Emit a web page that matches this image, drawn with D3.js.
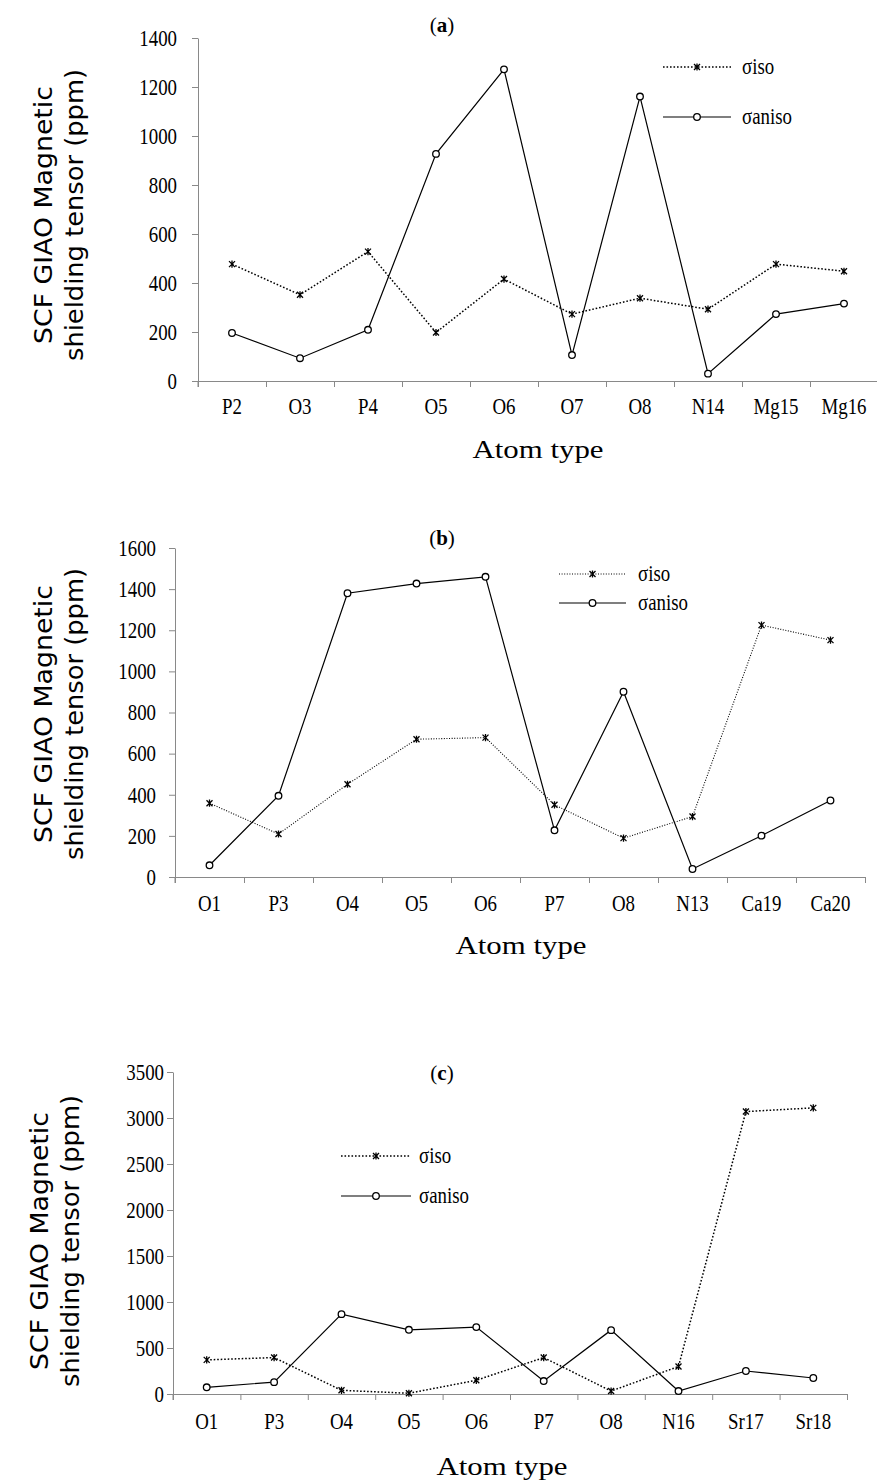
<!DOCTYPE html>
<html>
<head>
<meta charset="utf-8">
<script src="https://cdn.jsdelivr.net/npm/d3@7"></script>
<style>
  body { margin: 0; background: #fff; }
  svg { display: block; }
</style>
</head>
<body>
<div class="displayArea"></div>
<script>
// values (ppm)
var catsA = ["P2", "O3", "P4", "O5", "O6", "O7", "O8", "N14", "Mg15", "Mg16"],
    isoA = [477, 352, 528, 198, 416, 273, 338, 293, 477, 448],
    anisoA = [196, 93, 209, 927, 1272, 106, 1161, 30, 273, 316],
    ticksA = [0, 200, 400, 600, 800, 1000, 1200, 1400];

var catsB = ["O1", "P3", "O4", "O5", "O6", "P7", "O8", "N13", "Ca19", "Ca20"],
    isoB = [359, 209, 451, 670, 678, 351, 189, 294, 1225, 1152],
    anisoB = [57, 395, 1380, 1427, 1460, 227, 901, 39, 201, 372],
    ticksB = [0, 200, 400, 600, 800, 1000, 1200, 1400, 1600];

var catsC = ["O1", "P3", "O4", "O5", "O6", "P7", "O8", "N16", "Sr17", "Sr18"],
    isoC = [371, 396, 40, 8, 149, 396, 32, 299, 3070, 3110],
    anisoC = [73, 129, 868, 698, 727, 141, 694, 32, 250, 174],
    ticksC = [0, 500, 1000, 1500, 2000, 2500, 3000, 3500];

var seriesNames = ["\u03c3iso", "\u03c3aniso"],
    panelLetters = ["a", "b", "c"],
    xTitle = "Atom type",
    yTitle1 = "SCF GIAO Magnetic",
    yTitle2 = "shielding tensor  (ppm)";

var width = 877, height = 1482,
    squeeze = 0.82, // text in the source is narrow
    axisGrey = "#898989",
    serif = "'Liberation Serif', 'Times New Roman', serif",
    sans = "'DejaVu Sans', Verdana, sans-serif";

var svg = d3.select(".displayArea").append("svg")
    .attr("width", width)
    .attr("height", height);

svg.append("rect").attr("width", width).attr("height", height).attr("fill", "#fff");

// asterisk-like star marker
var starPath = "M-3,-3L3,3M-3,3L3,-3M0,-3.6L0,3.6";

var panels = [
    {cats: catsA, iso: isoA, aniso: anisoA, ticks: ticksA, letter: panelLetters[0],
     x0: 198, x1: 878, yTop: 38, yBase: 381, labelEnd: 177, titleY: 32, tickLabelY: 414,
     atomX: 538, atomY: 458, yt1: 52, yt2: 83, ytY: 215,
     leg: {x1: 663, x2: 731, tx: 742, y1: 67, y2: 117}, isoDash: "1.6,1.9", isoW: 1.5},
    {cats: catsB, iso: isoB, aniso: anisoB, ticks: ticksB, letter: panelLetters[1],
     x0: 175, x1: 865, yTop: 548, yBase: 877, labelEnd: 156, titleY: 545, tickLabelY: 911,
     atomX: 521, atomY: 954, yt1: 52, yt2: 83, ytY: 714,
     leg: {x1: 559, x2: 626, tx: 638, y1: 574, y2: 603}, isoDash: "1,1.6", isoW: 1.1},
    {cats: catsC, iso: isoC, aniso: anisoC, ticks: ticksC, letter: panelLetters[2],
     x0: 173, x1: 847, yTop: 1072, yBase: 1394, labelEnd: 164, titleY: 1080, tickLabelY: 1429,
     atomX: 502, atomY: 1475, yt1: 48, yt2: 79, ytY: 1241,
     leg: {x1: 341, x2: 411, tx: 419, y1: 1156, y2: 1196}, isoDash: "1.6,1.9", isoW: 1.5}
];

panels.forEach(drawPanel);

function drawPanel(p) {
    var n = p.cats.length;
    var g = svg.append("g");

    var xBand = d3.scaleBand().domain(p.cats).range([p.x0, p.x1]).padding(0);
    var xEdge = d3.scaleLinear().domain([0, n]).range([p.x0, p.x1]);
    var yScale = d3.scaleLinear()
        .domain([0, p.ticks[p.ticks.length - 1]])
        .range([p.yBase, p.yTop]);
    var cx = function (c) { return xBand(c) + xBand.bandwidth() / 2; };

    // x axis: line + boundary tick marks
    var xAx = g.append("g")
        .attr("transform", `translate(0,${p.yBase})`)
        .call(d3.axisBottom(xEdge).tickValues(d3.range(n + 1)).tickSize(6).tickSizeOuter(0).tickFormat(""));
    xAx.selectAll("path, line").attr("stroke", axisGrey);

    // category labels
    var xLab = g.append("g")
        .attr("transform", `translate(0,${p.yBase})`)
        .call(d3.axisBottom(xBand).tickSize(0));
    xLab.select(".domain").remove();
    xLab.selectAll("text")
        .attr("y", p.tickLabelY - p.yBase)
        .attr("dy", 0)
        .attr("x", 0)
        .attr("transform", `scale(${squeeze},1)`)
        .attr("font-family", serif)
        .attr("font-size", 23)
        .attr("fill", "#000");

    // y axis
    var yAx = g.append("g")
        .attr("transform", `translate(${p.x0},0)`)
        .call(d3.axisLeft(yScale).tickValues(p.ticks).tickSize(6).tickSizeOuter(0).tickFormat(d3.format("d")));
    yAx.selectAll("path, line").attr("stroke", axisGrey);
    yAx.selectAll("text")
        .attr("x", -(p.x0 - p.labelEnd) / squeeze)
        .attr("transform", `scale(${squeeze},1)`)
        .attr("font-family", serif)
        .attr("font-size", 23)
        .attr("fill", "#000");
    // y axis line runs on below the x axis by the tick length
    g.append("line")
        .attr("x1", p.x0).attr("x2", p.x0)
        .attr("y1", p.yBase).attr("y2", p.yBase + 6)
        .attr("stroke", axisGrey);

    // lines
    var line = d3.line()
        .x(function (d, i) { return cx(p.cats[i]); })
        .y(function (d) { return yScale(d); });

    g.append("path").datum(p.aniso)
        .attr("d", line)
        .attr("fill", "none")
        .attr("stroke", "#000")
        .attr("stroke-width", 1.2);

    g.append("path").datum(p.iso)
        .attr("d", line)
        .attr("fill", "none")
        .attr("stroke", "#000")
        .attr("stroke-width", p.isoW)
        .attr("stroke-dasharray", p.isoDash);

    g.selectAll(".iso").data(p.iso).enter()
        .append("path")
        .attr("transform", function (d, i) { return `translate(${cx(p.cats[i])},${yScale(d)})`; })
        .attr("d", starPath)
        .attr("stroke", "#000")
        .attr("stroke-width", 1.3)
        .attr("fill", "none");

    g.selectAll(".aniso").data(p.aniso).enter()
        .append("circle")
        .attr("cx", function (d, i) { return cx(p.cats[i]); })
        .attr("cy", function (d) { return yScale(d); })
        .attr("r", 3.3)
        .attr("fill", "#fff")
        .attr("stroke", "#000")
        .attr("stroke-width", 1.3);

    // legend
    var L = p.leg, mid = (L.x1 + L.x2) / 2;
    g.append("line").attr("x1", L.x1).attr("x2", L.x2).attr("y1", L.y1).attr("y2", L.y1)
        .attr("stroke", "#000").attr("stroke-width", p.isoW).attr("stroke-dasharray", p.isoDash);
    g.append("path").attr("transform", `translate(${mid},${L.y1})`).attr("d", starPath)
        .attr("stroke", "#000").attr("stroke-width", 1.3);
    g.append("line").attr("x1", L.x1).attr("x2", L.x2).attr("y1", L.y2).attr("y2", L.y2)
        .attr("stroke", "#000").attr("stroke-width", 1.2);
    g.append("circle").attr("cx", mid).attr("cy", L.y2).attr("r", 3.3)
        .attr("fill", "#fff").attr("stroke", "#000").attr("stroke-width", 1.3);
    [L.y1, L.y2].forEach(function (yy, i) {
        g.append("text")
            .attr("transform", `translate(${L.tx},${yy + 7}) scale(${squeeze},1)`)
            .attr("font-family", serif)
            .attr("font-size", 23)
            .text(seriesNames[i]);
    });

    // panel title (a)/(b)/(c)
    var t = g.append("text")
        .attr("x", 442).attr("y", p.titleY)
        .attr("text-anchor", "middle")
        .attr("font-family", serif)
        .attr("font-size", 21);
    t.append("tspan").text("(");
    t.append("tspan").attr("font-weight", "bold").text(p.letter);
    t.append("tspan").text(")");

    // x title
    g.append("text")
        .attr("x", p.atomX).attr("y", p.atomY)
        .attr("text-anchor", "middle")
        .attr("font-family", serif)
        .attr("font-size", 26)
        .attr("textLength", 131)
        .attr("lengthAdjust", "spacingAndGlyphs")
        .text(xTitle);

    // y title, two lines
    [[p.yt1, yTitle1, 258], [p.yt2, yTitle2, 292]].forEach(function (r) {
        g.append("text")
            .attr("transform", `translate(${r[0]},${p.ytY}) rotate(-90)`)
            .attr("text-anchor", "middle")
            .attr("font-family", sans)
            .attr("font-size", 25)
            .attr("textLength", r[2])
            .attr("lengthAdjust", "spacingAndGlyphs")
            .text(r[1]);
    });
}
</script>
</body>
</html>
